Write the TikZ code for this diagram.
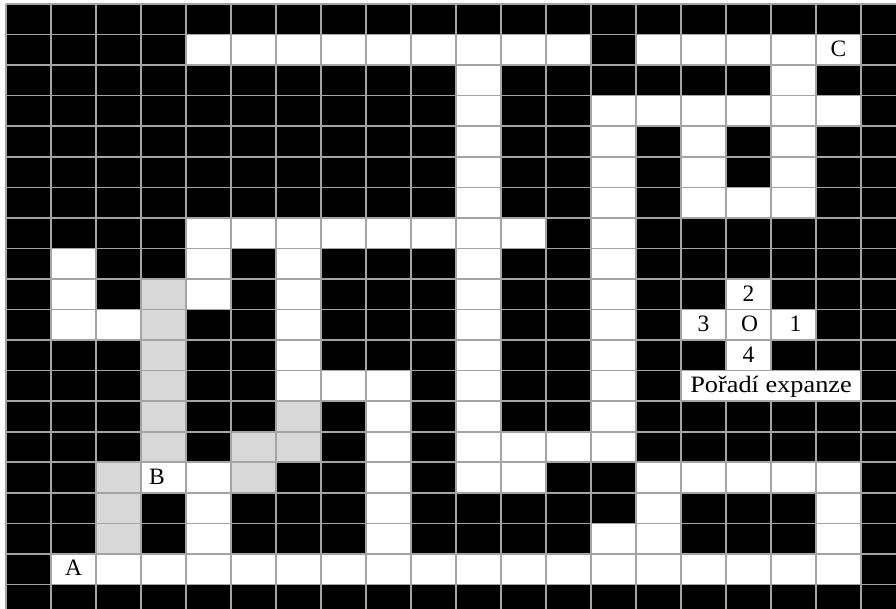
\documentclass[tikz,border=0pt]{standalone}
\usepackage{fontspec}
\setmainfont{Liberation Serif}
\definecolor{gridc}{HTML}{A4A4A4}
\definecolor{pathc}{HTML}{D8D8D8}
\begin{document}
\begin{tikzpicture}[x=1pt,y=-1pt,
  lab/.style={inner sep=0pt, anchor=base, font=\fontsize{23.5}{27}\selectfont},
  gridline/.style={draw=gridc, line width=1.6pt}]
\useasboundingbox (0,0) rectangle (896,608);
\clip (0,0) rectangle (896,608);
\fill[white] (0,0) rectangle (896,608);
\fill[black] (6,4) rectangle (910,620);
% white cells
\foreach \r/\cs in {
  1/{4,5,6,7,8,9,10,11,12,14,15,16,17,18},
  2/{10,17},
  3/{10,13,14,15,16,17,18},
  4/{10,13,15,17},
  5/{10,13,15,17},
  6/{10,13,15,16,17},
  7/{4,5,6,7,8,9,10,11,13},
  8/{1,4,6,10,13},
  9/{1,4,6,10,13,16},
  10/{1,2,6,10,13,15,16,17},
  11/{6,10,13,16},
  12/{6,7,8,10,13},
  13/{8,10,13},
  14/{8,10,11,12,13},
  15/{3,4,8,10,11,14,15,16,17,18},
  16/{4,8,14,18},
  17/{4,8,13,14,18},
  18/{1,2,3,4,5,6,7,8,9,10,11,12,13,14,15,16,17,18}}{
  \foreach \c in \cs {
    \fill[white] ({6+45*\c},{4+30.55*\r}) rectangle ++(45,30.55);
  }
}
% gray (expanded path) cells
\foreach \r/\c in {9/3,10/3,11/3,12/3,13/3,13/6,14/3,14/5,14/6,15/2,15/5,16/2,17/2}{
  \fill[pathc] ({6+45*\c},{4+30.55*\r}) rectangle ++(45,30.55);
}
% grid
\foreach \k in {0,...,19}{
  \draw[gridline] ({6+45*\k},4) -- ({6+45*\k},620);
  \draw[gridline] (6,{4+30.55*\k}) -- (910,{4+30.55*\k});
}
% legend box
\draw[gridline, fill=white] (681,{4+30.55*12}) rectangle (861,{4+30.55*13});
% labels
\node[lab] (C) at (838.5,{4+30.55*2-8.5}) {C};
\node[lab] (A) at (73.5,{4+30.55*19-8.5}) {A};
\node[lab, anchor=base west] (B) at (149,{4+30.55*16-8.5}) {B};
\node[lab] (n2) at (748.5,{4+30.55*10-8.5}) {2};
\node[lab] (n3) at (703.5,{4+30.55*11-8.5}) {3};
\node[lab] (nO) at (749.5,{4+30.55*11-8.5}) {O};
\node[lab] (n1) at (795.5,{4+30.55*11-8.5}) {1};
\node[lab] (n4) at (748.5,{4+30.55*12-8.5}) {4};
\node[lab] (leg) at (771,{4+30.55*13-8.5}) {\scalebox{1.12}[1]{Pořadí expanze}};
\end{tikzpicture}
\end{document}
